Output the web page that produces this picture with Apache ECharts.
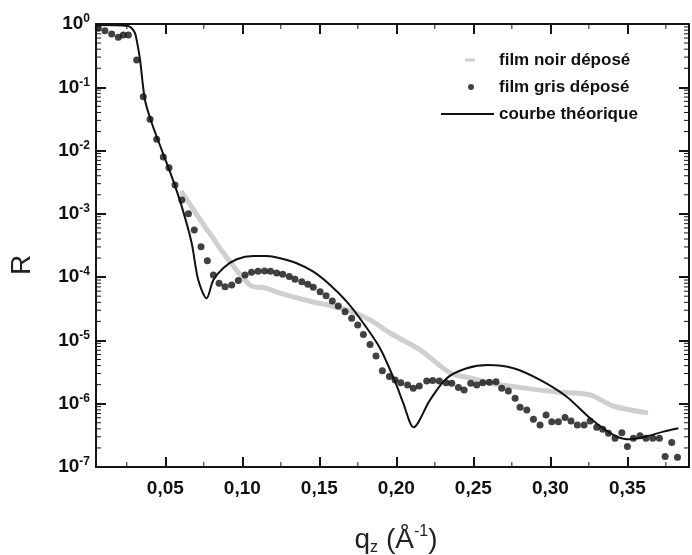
<!DOCTYPE html>
<html>
<head>
<meta charset="utf-8">
<script src="https://cdn.jsdelivr.net/npm/echarts@6/dist/echarts.min.js"></script>
<style>
  html, body { margin: 0; padding: 0; background: #fff; }
  #main { width: 692px; height: 555px; }
</style>
</head>
<body>
<div id="main"></div>
<script>
// --- data (q_z in 1/Å, reflectivity R) ---
const grisQ = [0.0065,0.0108,0.0152,0.0195,0.0227,0.026,0.0314,0.0357,0.0401,0.0444,0.0487,0.0524,0.0563,0.0607,0.065,0.0688,0.0732,0.0773,0.0812,0.0849,0.0888,0.0931,0.0974,0.1018,0.106,0.1102,0.1144,0.1183,0.1223,0.1262,0.1305,0.1342,0.1386,0.1425,0.1461,0.1505,0.1544,0.1584,0.1623,0.1667,0.171,0.1749,0.1786,0.1829,0.1868,0.1909,0.1955,0.1992,0.2029,0.2073,0.211,0.2149,0.2197,0.2236,0.2279,0.2323,0.236,0.2403,0.244,0.2483,0.2522,0.2561,0.2604,0.2647,0.2684,0.2727,0.2771,0.2803,0.2847,0.289,0.2933,0.2972,0.3009,0.3052,0.3095,0.3134,0.3175,0.3219,0.3258,0.3301,0.334,0.3377,0.342,0.3464,0.35,0.3539,0.3582,0.3621,0.3665,0.3708,0.3745,0.3788,0.3825];
const grisR = [0.855,0.78,0.695,0.62,0.67,0.67,0.27,0.071,0.0312,0.0151,0.00792,0.00537,0.00286,0.00166,0.001,5.57e-4,3.03e-4,1.82e-4,1.08e-4,8.0e-5,7.08e-5,7.5e-5,8.87e-5,1.08e-4,1.19e-4,1.24e-4,1.25e-4,1.24e-4,1.16e-4,1.11e-4,1.02e-4,9.27e-5,8.49e-5,7.73e-5,6.92e-5,5.9e-5,5.1e-5,4.2e-5,3.51e-5,2.85e-5,2.24e-5,1.76e-5,1.24e-5,8.6e-6,5.69e-6,3.33e-6,2.68e-6,2.38e-6,2.15e-6,1.98e-6,1.76e-6,1.91e-6,2.29e-6,2.32e-6,2.29e-6,2.15e-6,2.11e-6,1.8e-6,1.65e-6,2.11e-6,1.98e-6,2.15e-6,2.19e-6,2.23e-6,1.76e-6,1.59e-6,1.22e-6,8.8e-7,7.98e-7,5.69e-7,4.62e-7,6.65e-7,5.21e-7,5.21e-7,6.03e-7,5.35e-7,4.62e-7,4.62e-7,5.35e-7,4.25e-7,3.95e-7,3.42e-7,2.85e-7,3.49e-7,2.1e-7,2.85e-7,3.13e-7,2.85e-7,2.85e-7,2.85e-7,1.46e-7,2.43e-7,1.43e-7];

const noirQ = [0.0602,0.0758,0.081,0.0862,0.105,0.1147,0.1245,0.1459,0.155,0.168,0.1829,0.1959,0.2154,0.2349,0.2479,0.2608,0.2823,0.3043,0.3258,0.3407,0.3634];
const noirR = [2.3e-3,6.2e-4,4.17e-4,2.69e-4,7.5e-5,6.75e-5,5.6e-5,4.05e-5,3.64e-5,3.03e-5,2.11e-5,1.31e-5,7.08e-6,3.07e-6,2.55e-6,2.13e-6,1.78e-6,1.53e-6,1.38e-6,9.2e-7,7.16e-7];

const theoQ = [0.005,0.0258,0.0282,0.0303,0.0314,0.0336,0.0368,0.0412,0.0477,0.0542,0.0607,0.0671,0.0714,0.0768,0.0812,0.0877,0.0964,0.1071,0.1158,0.1245,0.1353,0.1461,0.157,0.1678,0.1786,0.1894,0.1992,0.2045,0.2112,0.2219,0.2327,0.2457,0.2595,0.276,0.2933,0.3106,0.3258,0.3409,0.3496,0.3604,0.3734,0.3831];
const theoR = [0.96,0.93,0.855,0.72,0.56,0.27,0.063,0.0273,0.0102,0.00387,0.0013,3.47e-4,9.0e-5,4.65e-5,9.0e-5,1.4e-4,1.92e-4,2.16e-4,2.16e-4,1.99e-4,1.66e-4,1.22e-4,7.53e-5,4.1e-5,1.87e-5,7.53e-6,2.23e-6,1.02e-6,4.25e-7,1.15e-6,2.53e-6,3.64e-6,4.1e-6,3.64e-6,2.38e-6,1.29e-6,5.9e-7,3.21e-7,2.75e-7,2.96e-7,3.62e-7,4.1e-7];

// axis ranges and tick positions
const X_MIN = 0.005, X_MAX = 0.39;
const Y_MIN = 1e-7, Y_MAX = 1;
const xMajor = [0.05, 0.10, 0.15, 0.20, 0.25, 0.30, 0.35];
const xMinor = [0.025, 0.075, 0.125, 0.175, 0.225, 0.275, 0.325, 0.375];
const yMajor = [1e-7, 1e-6, 1e-5, 1e-4, 1e-3, 1e-2, 1e-1, 1];
const yMinor = [];
for (let e = -7; e < 0; e++) {
  for (let m = 2; m <= 9; m++) yMinor.push(m * Math.pow(10, e));
}

const names = ["film noir déposé", "film gris déposé", "courbe théorique"];

const FONT = "'Liberation Sans', Arial, sans-serif";
const AXIS_COLOR = "#151515";

const zip = (a, b) => a.map((v, i) => [v, b[i]]);

function xAxisDef(pos, labels) {
  return {
    type: "value", position: pos, min: X_MIN, max: X_MAX,
    axisLine: { show: true, onZero: false, lineStyle: { color: AXIS_COLOR, width: 2 } },
    axisTick: { show: true, inside: true, length: 10, customValues: xMajor,
      lineStyle: { color: AXIS_COLOR, width: 2 } },
    axisLabel: {
      show: labels, customValues: xMajor, margin: 12, color: "#111",
      fontFamily: FONT, fontWeight: "bold", fontSize: 19,
      formatter: v => v.toFixed(2).replace(".", ",")
    },
    splitLine: { show: false }
  };
}

function yAxisDef(pos, labels) {
  return {
    type: "log", logBase: 10, position: pos, min: Y_MIN, max: Y_MAX,
    axisLine: { show: true, onZero: false, lineStyle: { color: AXIS_COLOR, width: 2 } },
    axisTick: { show: true, inside: true, length: 10, customValues: yMajor,
      lineStyle: { color: AXIS_COLOR, width: 2 } },
    axisLabel: {
      show: labels, customValues: yMajor, margin: 6, color: "#111",
      formatter: v => "{b|10}{s|" + Math.round(Math.log10(v)) + "}",
      rich: {
        b: { fontFamily: FONT, fontWeight: "bold", fontSize: 19, lineHeight: 22, color: "#111" },
        s: { fontFamily: FONT, fontWeight: "bold", fontSize: 12, verticalAlign: "top", color: "#111" }
      }
    },
    splitLine: { show: false }
  };
}

// minor ticks, drawn inward from both opposite axes
function minorX(params, api) {
  const b = api.coord([api.value(0), Y_MIN]);
  const t = api.coord([api.value(0), Y_MAX]);
  return {
    type: "group",
    children: [
      { type: "line", shape: { x1: b[0], y1: b[1], x2: b[0], y2: b[1] - 5 }, style: { stroke: AXIS_COLOR, lineWidth: 1 } },
      { type: "line", shape: { x1: t[0], y1: t[1], x2: t[0], y2: t[1] + 5 }, style: { stroke: AXIS_COLOR, lineWidth: 1 } }
    ]
  };
}
function minorY(params, api) {
  const l = api.coord([X_MIN, api.value(1)]);
  const r = api.coord([X_MAX, api.value(1)]);
  return {
    type: "group",
    children: [
      { type: "line", shape: { x1: l[0], y1: l[1], x2: l[0] + 5, y2: l[1] }, style: { stroke: AXIS_COLOR, lineWidth: 1 } },
      { type: "line", shape: { x1: r[0], y1: r[1], x2: r[0] - 5, y2: r[1] }, style: { stroke: AXIS_COLOR, lineWidth: 1 } }
    ]
  };
}

const chart = echarts.init(document.getElementById("main"));

chart.setOption({
  backgroundColor: "#fff",
  animation: false,
  grid: { left: 96, right: 3, top: 24, bottom: 88 },
  xAxis: [xAxisDef("bottom", true), xAxisDef("top", false)],
  yAxis: [yAxisDef("left", true), yAxisDef("right", false)],
  legend: {
    orient: "vertical", left: 441, top: 50, padding: 0, itemGap: 7,
    itemWidth: 53, itemHeight: 14, selectedMode: false,
    itemStyle: { borderWidth: 0 },
    textStyle: { fontFamily: FONT, fontWeight: "bold", fontSize: 17, color: "#111", lineHeight: 20 },
    data: [
      { name: names[0], icon: "path://M0,0M53,14M24,5.5h10v3h-10z" },
      { name: names[1], icon: "path://M0,0M53,14M33,7a3,3 0 1 0 -6,0a3,3 0 1 0 6,0z" },
      { name: names[2], icon: "path://M0,0M53,14M0,6h53v2h-53z" }
    ]
  },
  graphic: [
    {
      type: "text", x: 22, y: 265, rotation: Math.PI / 2,
      style: { text: "R", fill: "#222", font: "28px " + FONT, align: "center", verticalAlign: "middle" }
    },
    {
      type: "text", x: 396, y: 540,
      style: {
        text: "{a|q}{sub|z}{a| (Å}{sup|-1}{a|)}", align: "center", verticalAlign: "middle",
        rich: {
          a: { fontFamily: FONT, fontSize: 28, lineHeight: 32, fill: "#222" },
          sub: { fontFamily: FONT, fontSize: 16, verticalAlign: "bottom", fill: "#222" },
          sup: { fontFamily: FONT, fontSize: 16, verticalAlign: "top", fill: "#222" }
        }
      }
    }
  ],
  series: [
    {
      name: names[0], type: "line", data: zip(noirQ, noirR),
      color: "#cfcfcf", symbol: "none", smooth: 0.3,
      lineStyle: { width: 5, color: "#cfcfcf" }, z: 1
    },
    {
      name: names[1], type: "scatter", data: zip(grisQ, grisR),
      color: "#111", symbol: "circle", symbolSize: 7, z: 3
    },
    {
      name: names[2], type: "line", data: zip(theoQ, theoR),
      color: "#111", symbol: "none", smooth: 0.3,
      lineStyle: { width: 2, color: "#111" }, z: 4
    },
    { type: "custom", data: xMinor.map(v => [v, Y_MIN]), renderItem: minorX },
    { type: "custom", data: yMinor.map(v => [X_MIN, v]), renderItem: minorY }
  ]
});
</script>
</body>
</html>
